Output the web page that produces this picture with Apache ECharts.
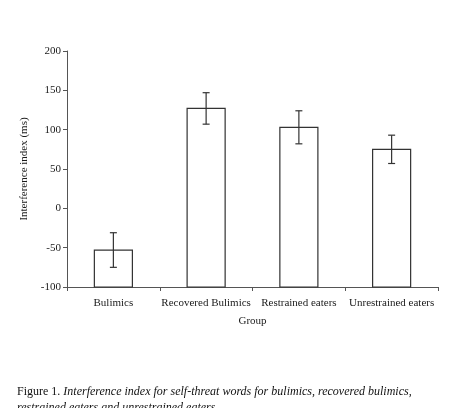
<!DOCTYPE html>
<html><head><meta charset="utf-8">
<script src="https://cdn.jsdelivr.net/npm/echarts@6/dist/echarts.min.js"></script>
<style>html,body{margin:0;padding:0;background:#fff}#c{width:451px;height:408px}</style>
</head><body><div id="c"></div>
<script>
const categories = ['Bulimics', 'Recovered Bulimics', 'Restrained eaters', 'Unrestrained eaters'];
const means = [-53, 127, 103, 75];
const errors = [22, 20, 21, 18];
const yTicks = [-100, -50, 0, 50, 100, 150, 200];

const chart = echarts.init(document.getElementById('c'), null, {renderer: 'canvas'});
const F = 'Liberation Serif, Times New Roman, serif';
const ink = '#1a1a1a';
chart.setOption({
  animation: false,
  backgroundColor: '#fff',
  grid: {left: 67, right: 13, top: 51, bottom: 121},
  xAxis: {
    type: 'category', data: categories,
    name: 'Group', nameLocation: 'middle', nameGap: 29,
    nameTextStyle: {fontFamily: F, fontSize: 11, color: ink},
    axisLine: {onZero: false, lineStyle: {color: '#555', width: 1}},
    axisTick: {show: true, length: 4, inside: false, lineStyle: {color: '#555'}},
    axisLabel: {fontFamily: F, fontSize: 11, color: ink, margin: 11, interval: 0}
  },
  yAxis: {
    type: 'value', min: yTicks[0], max: yTicks[yTicks.length - 1], interval: 50,
    name: 'Interference index (ms)', nameLocation: 'middle', nameGap: 35,
    nameTextStyle: {fontFamily: F, fontSize: 11, color: ink},
    axisLine: {show: true, lineStyle: {color: '#555', width: 1}},
    axisTick: {show: true, length: 4, lineStyle: {color: '#555'}},
    axisLabel: {fontFamily: F, fontSize: 11, color: ink, margin: 6},
    splitLine: {show: false}
  },
  series: [
    {
      type: 'custom',
      data: means.map((v, i) => [i, v]),
      renderItem: function (params, api) {
        const i = api.value(0), v = api.value(1);
        const top = api.coord([i, v]);
        const base = api.coord([i, yTicks[0]]);
        const w = api.size([1, 0])[0] * 0.41;
        return {
          type: 'rect',
          shape: {x: top[0] - w / 2, y: top[1], width: w, height: base[1] - top[1]},
          style: {fill: '#fff', stroke: '#333', lineWidth: 1.2}
        };
      }
    },
    {
      type: 'custom',
      data: means.map((v, i) => [i, v - errors[i], v + errors[i]]),
      z: 3,
      renderItem: function (params, api) {
        const i = api.value(0);
        const lo = api.coord([i, api.value(1)]);
        const hi = api.coord([i, api.value(2)]);
        const c = 3.5;
        const st = {stroke: '#333', lineWidth: 1.2};
        return {
          type: 'group',
          children: [
            {type: 'line', shape: {x1: lo[0], y1: lo[1], x2: hi[0], y2: hi[1]}, style: st},
            {type: 'line', shape: {x1: lo[0] - c, y1: lo[1], x2: lo[0] + c, y2: lo[1]}, style: st},
            {type: 'line', shape: {x1: hi[0] - c, y1: hi[1], x2: hi[0] + c, y2: hi[1]}, style: st}
          ]
        };
      }
    }
  ],
  graphic: [
    {
      type: 'text', left: 17, top: 386,
      style: {
        text: '{n|Figure 1. }{i|Interference index for self-threat words for bulimics, recovered bulimics,}\n{i|restrained eaters and unrestrained eaters}',
        rich: {
          n: {fontFamily: F, fontSize: 12, fill: '#111', lineHeight: 16},
          i: {fontFamily: F, fontSize: 12, fontStyle: 'italic', fill: '#111', lineHeight: 16}
        }
      }
    }
  ]
});
</script></body></html>
